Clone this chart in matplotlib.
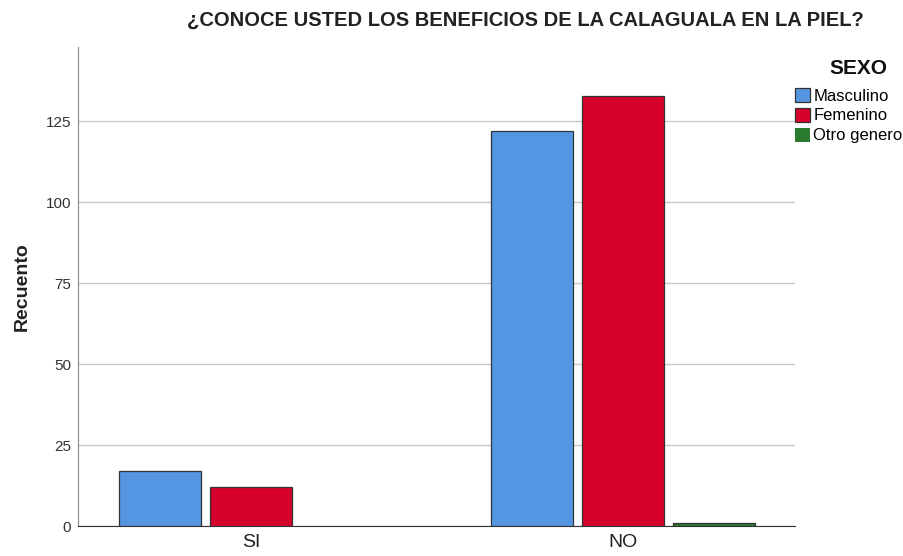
import matplotlib
matplotlib.use("Agg")
import matplotlib.pyplot as plt
import numpy as np

plt.rcParams['font.family'] = ['Liberation Sans', 'DejaVu Sans']

categories = ["SI", "NO"]
series_names = ["Masculino", "Femenino", "Otro genero"]
masculino = [17, 122]
femenino = [12, 133]
otro = [0, 1]
colors = ["#5596E3", "#D5002B", "#2A7A30"]
yticks = [0, 25, 50, 75, 100, 125]

fig = plt.figure(figsize=(9.04, 5.56), dpi=100)
ax = fig.add_axes([78/904, 30/556, (795-78)/904, (526-47)/556])

x = np.arange(len(categories))
w = 0.22
off = 0.245
for i, (vals, c, name) in enumerate(zip([masculino, femenino, otro], colors, series_names)):
    lws = [0.9 if v > 0 else 0 for v in vals]
    ax.bar(x + (i - 1) * off, vals, width=w, color=c, edgecolor="#333333",
           linewidth=lws, label=name, zorder=3)

ax.set_xlim(-0.465, 1.462)
ax.set_ylim(0, 148)
ax.set_yticks(yticks)
ax.set_xticks(x)
ax.set_xticklabels(categories, fontsize=14, color="#222222")
ax.tick_params(axis='y', length=0, labelsize=11, colors="#333333", pad=5)
ax.tick_params(axis='x', length=0, pad=6)
ax.yaxis.grid(True, color="#C8C8C8", linewidth=1.0, zorder=0)
ax.set_axisbelow(True)
for s in ["top", "right"]:
    ax.spines[s].set_visible(False)
ax.spines["left"].set_color("#888888")
ax.spines["bottom"].set_color("#333333")
ax.set_ylabel("Recuento", fontsize=14, fontweight="bold", labelpad=11, color="#222222")

fig.text(525/904, 1 - 20/556, "¿CONOCE USTED LOS BENEFICIOS DE LA CALAGUALA EN LA PIEL?",
         ha="center", va="center", fontsize=14.5, fontweight="bold", color="#222222")

fig.text(858/904, 1 - 68/556, "SEXO", ha="center", va="center",
         fontsize=15, fontweight="bold", color="#111111")

leg = ax.legend(loc="upper left", bbox_to_anchor=(795/904, 1 - 88/556),
                bbox_transform=fig.transFigure, frameon=False, fontsize=12,
                handlelength=0.9, handleheight=0.9, handletextpad=0.2,
                labelspacing=0.25, borderaxespad=0, borderpad=0)

fig.savefig("out.png", dpi=100)
